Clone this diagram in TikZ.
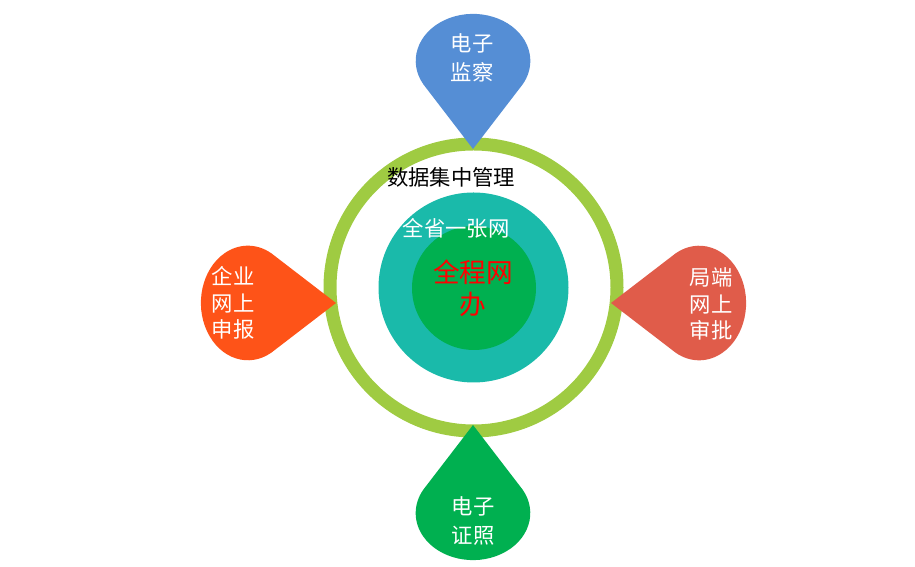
\documentclass[tikz,border=0pt]{standalone}
\usepackage{fontspec}
\setmainfont{Noto Sans CJK SC}
\definecolor{dropblue}{HTML}{558ED5}
\definecolor{droporange}{HTML}{FE5318}
\definecolor{dropred}{HTML}{E05C4A}
\definecolor{dropgreen}{HTML}{00B050}
\definecolor{ringgreen}{HTML}{9FCB42}
\definecolor{netteal}{HTML}{1ABAAA}
\tikzset{
  droptext/.style={align=center,text=white,font=\fontsize{16pt}{21.5pt}\selectfont},
  sidetext/.style={align=center,text=white,font=\fontsize{16pt}{20pt}\selectfont}
}
\begin{document}
\begin{tikzpicture}[x=0.75pt,y=0.75pt]
    \useasboundingbox (0,0) rectangle (915,567);
    % rings
    \draw[ringgreen,line width=9.75pt] (473.5,279.5) circle (143.5);
    \fill[netteal] (473.5,279.5) circle (95);
    \fill[dropgreen] (474,279) circle (62);
    % drops: tip x / tip y / rotation / colour
    \foreach \tx/\ty/\rot/\col in {473/418/0/dropblue,336/264/90/droporange,611/264/-90/dropred,473/142/180/dropgreen}
      \fill[\col,shift={(\tx,\ty)},rotate=\rot] (0,0) -- (-49.6,64.6)
        arc[start angle=210,end angle=-30,x radius=57.3,y radius=47] -- cycle;
    % texts
    \node (data) [font=\fontsize{16pt}{18pt}\selectfont] at (451,390) {数据集中管理};
    \node (prov) [text=white,font=\fontsize{16pt}{18pt}\selectfont] at (456,339) {全省一张网};
    \node (whole) [align=center,text=red,font=\fontsize{20pt}{24pt}\selectfont] at (473,279) {全程网\\办};
    \node (monitor) [droptext] at (472,509) {电子\\监察};
    \node (license) [droptext] at (473,46) {电子\\证照};
    \node (report) [sidetext] at (233,264) {企业\\网上\\申报};
    \node (approve) [sidetext] at (711,263) {局端\\网上\\审批};
\end{tikzpicture}
\end{document}
